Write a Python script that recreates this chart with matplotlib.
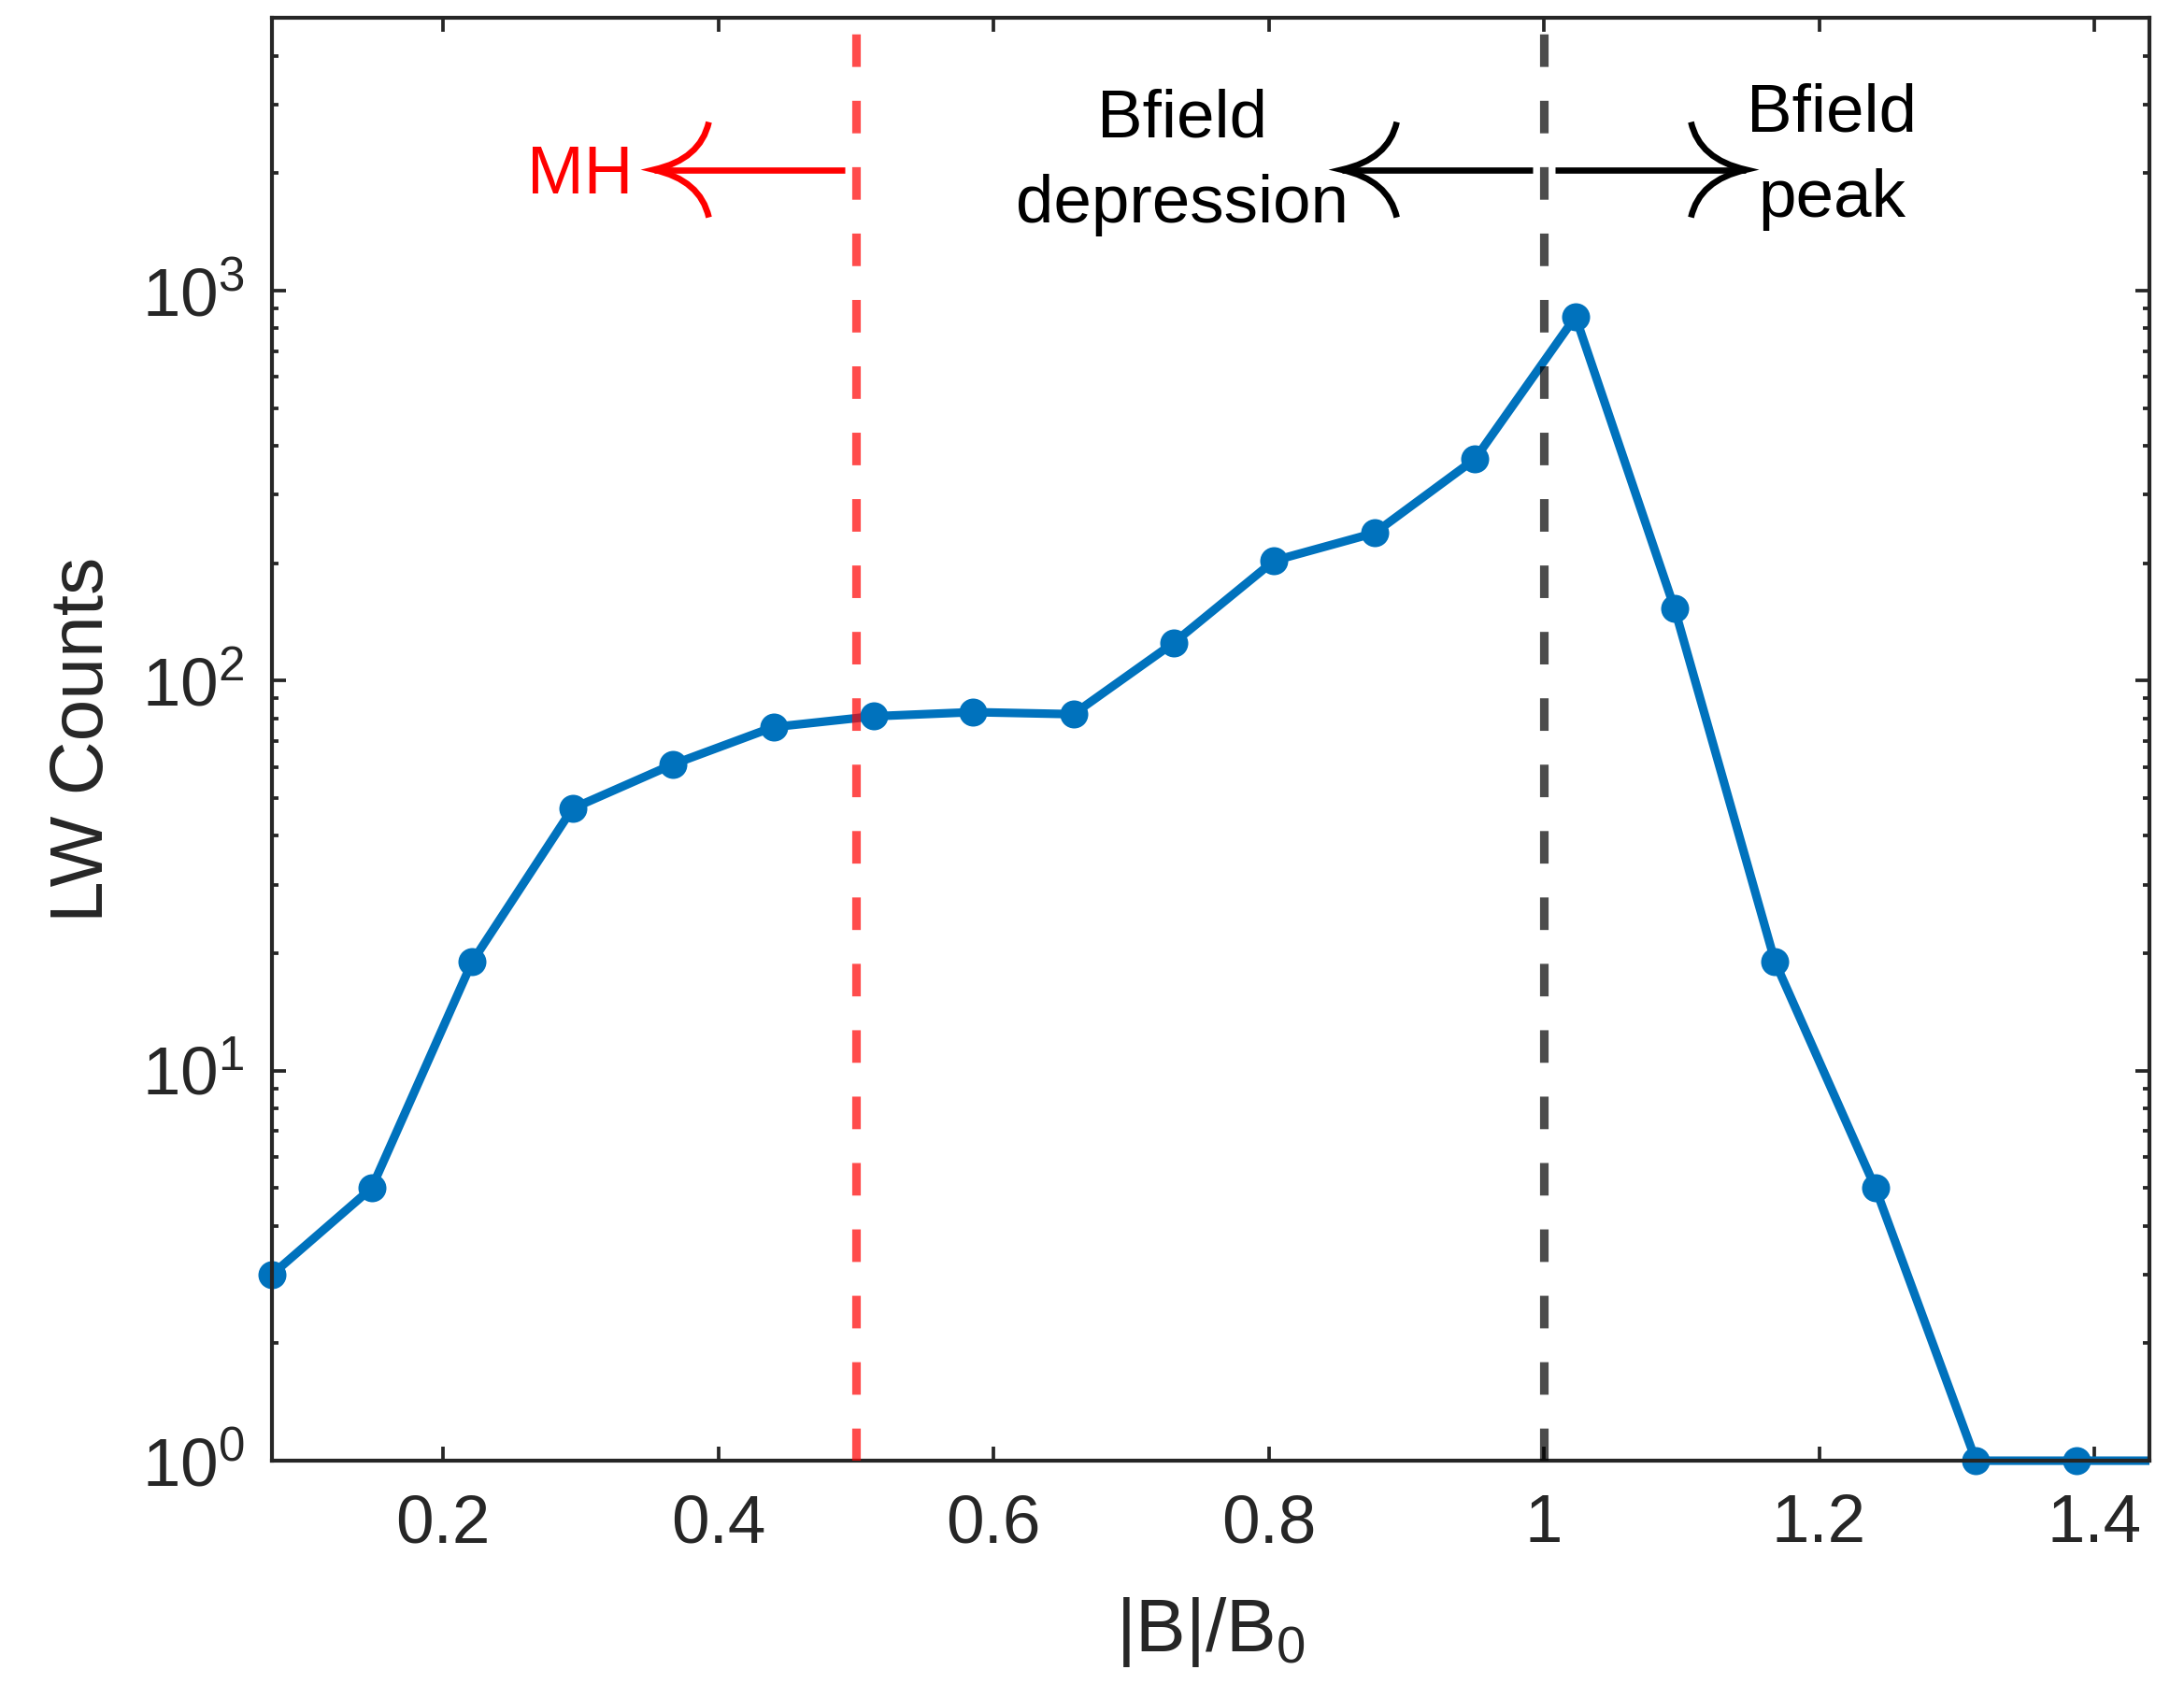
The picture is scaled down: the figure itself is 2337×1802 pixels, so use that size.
import numpy as np
import matplotlib
matplotlib.use("Agg")
import matplotlib.pyplot as plt
import matplotlib.ticker as mticker
import matplotlib.transforms as mtransforms
from matplotlib.path import Path
from matplotlib.patches import PathPatch, Rectangle

plt.rcParams["font.family"] = ["Liberation Sans", "DejaVu Sans"]

# --- data --------------------------------------------------------------------
b_ratio = [0.0755, 0.148, 0.221, 0.294, 0.367, 0.440, 0.513, 0.585, 0.658, 0.731,
           0.804, 0.877, 0.950, 1.023, 1.095, 1.168, 1.241, 1.314, 1.387, 1.460]
lw_counts = [3, 5, 19, 47, 61, 76, 81, 83, 82, 125,
             203, 239, 370, 857, 153, 19, 5, 1, 1, 1]

MH_LIMIT = 0.5          # magnetic-hole threshold
B_REF = 1.0             # background field
x_ticks = [0.2, 0.4, 0.6, 0.8, 1.0, 1.2, 1.4]
x_max = 1.44
y_lim = (1, 5000)
# -----------------------------------------------------------------------------

BLUE = "#0072BD"
AX_COL = "#262626"
FS = 17.5
FS_LABEL = 19.25

fig = plt.figure(figsize=(2337 / 300, 1802 / 300), dpi=300)
ax = fig.add_axes([0.1245, 0.1326, 0.8596, 0.8568])

line, = ax.plot(b_ratio, lw_counts, color=BLUE, lw=2.2, marker="o", ms=7.2,
                mew=0, zorder=2)
# let markers/line on the bottom and left edges show fully, clip at right spine
line.set_clip_path(Rectangle((-0.03, -0.03), 1.03, 1.06, transform=ax.transAxes))

dash = (0, (3.8, 3.95))
ax.axvline(MH_LIMIT, color="r", alpha=0.7, lw=2.2, ls=dash, zorder=3)
ax.axvline(B_REF, color="k", alpha=0.7, lw=2.2, ls=dash, zorder=3)


def curved_arrow(x_start, x_tip, y, color):
    ax.plot([x_start, x_tip], [y, y], color=color, lw=1.6,
            solid_capstyle="butt", zorder=4)
    s = 1 if x_start > x_tip else -1
    trans = fig.dpi_scale_trans + mtransforms.ScaledTranslation(x_tip, y, ax.transData)
    ex, ey = s * 59 / 300, 51 / 300
    cx, cy = s * 50 / 300, 11 / 300
    verts = [(ex, ey), (cx, cy), (0, 0), (cx, -cy), (ex, -ey)]
    codes = [Path.MOVETO, Path.CURVE3, Path.CURVE3, Path.CURVE3, Path.CURVE3]
    ax.add_patch(PathPatch(Path(verts, codes), transform=trans, fill=False,
                           ec=color, lw=1.6, capstyle="butt", joinstyle="miter",
                           zorder=4))


ARROW_Y = 2040
ARROW_LEN = 0.139
GAP = 0.008
curved_arrow(MH_LIMIT - GAP, MH_LIMIT - GAP - ARROW_LEN, ARROW_Y, "r")
curved_arrow(B_REF - GAP, B_REF - GAP - ARROW_LEN, ARROW_Y, "k")
curved_arrow(B_REF + GAP, B_REF + GAP + ARROW_LEN, ARROW_Y, "k")

# va="baseline" on multi-line text aligns the last line
ax.text(0.2996, 1776, "MH", color="r", fontsize=FS, ha="center", va="baseline")
ax.text(0.737, 1496, "Bfield\ndepression", color="k", fontsize=FS,
        ha="center", va="baseline", multialignment="center", linespacing=1.47)
ax.text(1.2094, 1546, "Bfield\npeak", color="k", fontsize=FS,
        ha="center", va="baseline", multialignment="center", linespacing=1.47)

ax.set_yscale("log")
ax.set_xlim(b_ratio[0], x_max)
ax.set_ylim(*y_lim)
ax.set_xticks(x_ticks)
ax.xaxis.set_major_formatter(mticker.FuncFormatter(lambda v, p: f"{v:g}"))
ax.yaxis.set_major_locator(mticker.LogLocator(base=10, numticks=10))
ax.yaxis.set_minor_locator(mticker.LogLocator(base=10, subs=np.arange(2, 10), numticks=100))
ax.yaxis.set_minor_formatter(mticker.NullFormatter())

ax.tick_params(which="both", direction="in", top=True, right=True,
               colors=AX_COL, labelsize=FS, width=0.9)
ax.tick_params(which="major", length=3.6)
ax.tick_params(which="minor", length=1.7)
ax.tick_params(axis="x", pad=8.5)
ax.tick_params(axis="y", pad=7)
for sp in ax.spines.values():
    sp.set_color(AX_COL)
    sp.set_linewidth(1.0)

ax.set_xlabel(r"$\mathdefault{|B|/B_0}$", fontsize=FS_LABEL, color=AX_COL, labelpad=10)
ax.set_ylabel("LW Counts", fontsize=FS_LABEL, color=AX_COL, labelpad=6)

fig.savefig("out.png", dpi=300)
